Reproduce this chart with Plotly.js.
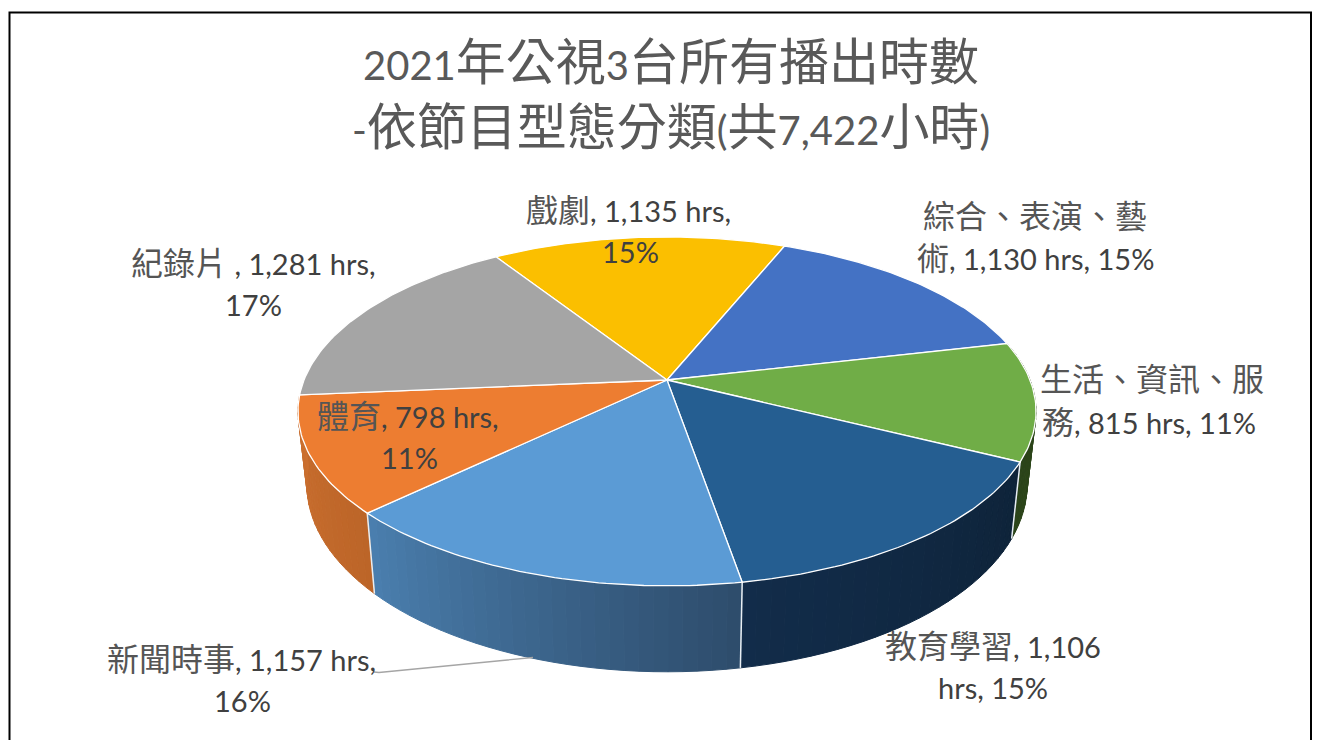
<!DOCTYPE html>
<html>
<head>
<meta charset="utf-8">
<script src="https://cdn.plot.ly/plotly-3.0.1.min.js"></script>
<style>html,body{margin:0;padding:0;background:#fff}#chart{width:1323px;height:740px}</style>
</head>
<body>
<div id="chart"></div>
<script>
// ---- data ----
const categories = ["戲劇", "綜合、表演、藝術", "生活、資訊、服務", "教育學習", "新聞時事", "體育", "紀錄片"];
const hours = [1135, 1130, 815, 1106, 1157, 798, 1281];
const titleText = "2021年公視3台所有播出時數<br>-依節目型態分類(共7,422小時)";
const labelLines = [
  ["戲劇, 1,135 hrs,", "15%"],
  ["綜合、表演、藝", "術, 1,130 hrs, 15%"],
  ["生活、資訊、服", "務, 815 hrs, 11%"],
  ["教育學習, 1,106", "hrs, 15%"],
  ["新聞時事, 1,157 hrs,", "16%"],
  ["體育, 798 hrs,", "11%"],
  ["紀錄片 , 1,281 hrs,", "17%"]
];

// ---- style ----
const topColors = ["#FBBF00", "#4472C4", "#70AD47", "#255E91", "#5B9BD5", "#ED7D31", "#A5A5A5"];
// side wall gradient, from the slice's start angle to its end angle (null: wall hidden)
const sideColors = [null, null, ["#2F4A1C", "#2B441A"], ["#0E2339", "#122C4A"], ["#2D4C6B", "#4A7FAF"], ["#BC6528", "#CC7030"], null];
const labelPos = [
  [[628, 208], [630, 251]],
  [[1035, 214], [1035, 256]],
  [[1152, 377], [1149, 419.5]],
  [[993, 644], [993, 687]],
  [[241, 657], [242, 700]],
  [[408, 414], [409, 457]],
  [[253, 261], [253, 304]]
];
const LATIN_RE = /([^\u3000-\u9fff]+)/g;
const FONT = "'Noto Sans CJK TC', sans-serif";
// the base font is the CJK one; runs of Latin text get their own face, size and colour
function mix(t, latinSize, latinColor) {
  return t.replace(LATIN_RE, `<span style="font-size:${latinSize}px;font-family:Lato;fill:${latinColor}">$1</span>`);
}

// ---- projection of the pie's circle to the page ----
const proj = {cx: 667, cy: 380, A: 363, B: 168.8, k: 0.18, startDeg: -32.85, wallScale: 0.976, wallA: 42, wallB: 1.075};
function topPt(deg) {
  const r = deg * Math.PI / 180, X = Math.sin(r), Y = Math.cos(r), w = 1 + proj.k * Y;
  return [proj.cx + proj.A * X / w, proj.cy - proj.B * Y / w];
}
function botPt(deg) {
  const p = topPt(deg);
  return [proj.cx + (p[0] - proj.cx) * proj.wallScale, proj.wallA + proj.wallB * p[1]];
}
function lerpColor(a, b, t) {
  const pa = [1, 3, 5].map(i => parseInt(a.substr(i, 2), 16));
  const pb = [1, 3, 5].map(i => parseInt(b.substr(i, 2), 16));
  const c = pa.map((v, i) => Math.round(v + (pb[i] - v) * t));
  return `rgb(${c[0]},${c[1]},${c[2]})`;
}

const total = hours.reduce((a, b) => a + b, 0);
const edges = [proj.startDeg];
hours.forEach(h => edges.push(edges[edges.length - 1] + h / total * 360));

const traces = [];
// side walls
hours.forEach((h, i) => {
  if (!sideColors[i]) return;
  const a0 = edges[i], a1 = edges[i + 1], n = Math.ceil((a1 - a0) / 2);
  for (let s = 0; s < n; s++) {
    const d0 = a0 + (a1 - a0) * s / n, d1 = a0 + (a1 - a0) * (s + 1) / n;
    const col = lerpColor(sideColors[i][0], sideColors[i][1], (s + 0.5) / n);
    const q = [topPt(d0), topPt(d1), botPt(d1), botPt(d0), topPt(d0)];
    traces.push({type: "scatter", mode: "lines", x: q.map(p => p[0]), y: q.map(p => p[1]),
      fill: "toself", fillcolor: col, line: {color: col, width: 1}, hoverinfo: "skip", showlegend: false});
  }
});
// wall dividers
[2, 3, 4, 5].forEach(i => {
  const a = topPt(edges[i]), b = botPt(edges[i]);
  traces.push({type: "scatter", mode: "lines", x: [a[0], b[0]], y: [a[1], b[1]],
    line: {color: "#E8EEF3", width: 1.5}, hoverinfo: "skip", showlegend: false});
});
// slice tops
hours.forEach((h, i) => {
  const a0 = edges[i], a1 = edges[i + 1], n = Math.ceil(a1 - a0);
  const xs = [proj.cx], ys = [proj.cy];
  for (let s = 0; s <= n; s++) {
    const p = topPt(a0 + (a1 - a0) * s / n);
    xs.push(p[0]); ys.push(p[1]);
  }
  xs.push(proj.cx); ys.push(proj.cy);
  traces.push({type: "scatter", mode: "lines", x: xs, y: ys, name: categories[i],
    fill: "toself", fillcolor: topColors[i], line: {color: "#FFFFFF", width: 1.3},
    hoverinfo: "name", showlegend: false});
});
// leader line for 新聞時事
traces.push({type: "scatter", mode: "lines", x: [374, 379, 533], y: [672, 672.5, 657.5],
  line: {color: "#A5A5A5", width: 1.3}, hoverinfo: "skip", showlegend: false});

const annotations = [];
labelLines.forEach((ls, i) => ls.forEach((t, j) => {
  annotations.push({x: labelPos[i][j][0], y: labelPos[i][j][1], xref: "x", yref: "y",
    text: mix(t, 29, "#404040"), showarrow: false, xanchor: "center", yanchor: "middle",
    font: {family: FONT, size: 32, color: "#555555"}});
}));

const layout = {
  width: 1323, height: 740, margin: {l: 0, r: 0, t: 0, b: 0},
  paper_bgcolor: "#fff", plot_bgcolor: "#fff", showlegend: false,
  title: {text: titleText.split("<br>").map(l => mix(l, 40, "#595959")).join("<br>"),
    x: 671 / 1323, xanchor: "center", y: 1 - 80 / 740, yanchor: "middle", yref: "container",
    font: {family: FONT, size: 50, color: "#595959"}},
  xaxis: {range: [0, 1323], visible: false, fixedrange: true},
  yaxis: {range: [740, 0], visible: false, fixedrange: true},
  shapes: [{type: "rect", xref: "x", yref: "y", x0: 9.5, y0: 12.5, x1: 1311, y1: 760,
    line: {color: "#000", width: 2}, fillcolor: "rgba(0,0,0,0)"}],
  annotations: annotations
};
Plotly.newPlot("chart", traces, layout, {displayModeBar: false, responsive: false});
</script>
</body>
</html>
